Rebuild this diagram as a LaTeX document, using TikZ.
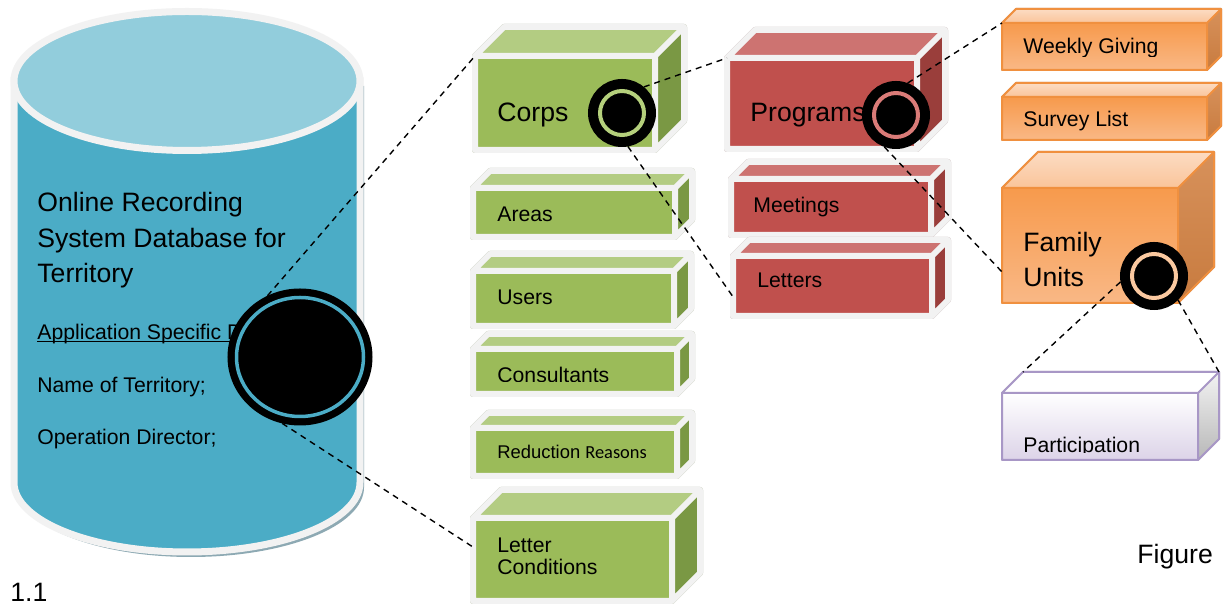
\documentclass[tikz,border=0pt]{standalone}
\usepackage{fontspec}
\setmainfont{Liberation Sans}
\newfontfamily\calibrifont{Carlito}
\usepackage{tikz}
\usetikzlibrary{shapes,calc,positioning}

\definecolor{rimgray}{HTML}{F2F2F2}
\definecolor{cylbody}{HTML}{4BACC6}
\definecolor{cyltop}{HTML}{92CDDC}
\definecolor{cylshade}{HTML}{8DA9B3}
\definecolor{grnfront}{HTML}{9BBB59}
\definecolor{grntop}{HTML}{B3CC82}
\definecolor{grnside}{HTML}{7A9844}
\definecolor{grnshade}{HTML}{A4AD90}
\definecolor{grnring}{HTML}{B5D07C}
\definecolor{redfront}{HTML}{C0504D}
\definecolor{redtop}{HTML}{CD7371}
\definecolor{redside}{HTML}{9A3E3B}
\definecolor{redshade}{HTML}{B39998}
\definecolor{redring}{HTML}{DA7B78}
\definecolor{orgline}{HTML}{F0903F}
\definecolor{orghi}{HTML}{F79A4C}
\definecolor{orglo}{HTML}{F9B886}
\definecolor{orgtop}{HTML}{FAC49A}
\definecolor{orgside}{HTML}{C87B3F}
\definecolor{orgshade}{HTML}{C49A78}
\definecolor{orgring}{HTML}{FBC9A0}
\definecolor{purline}{HTML}{A897C6}
\definecolor{purlo}{HTML}{DCD3E8}
\definecolor{purshade}{HTML}{C9C6CC}

\newcommand\bigtxt{\fontsize{13.3pt}{17.8pt}\selectfont}
\newcommand\smalltxt{\fontsize{10.6pt}{11pt}\selectfont}
\newsavebox\ulbox
\newcommand\ultxt[1]{\sbox\ulbox{#1}\rlap{\rule[-1pt]{\wd\ulbox}{0.55pt}}\usebox\ulbox}

% box with front face (#3,#4)-(#5,#6) and depth #7, colours from scheme #2
\newcommand\cuboid[7]{%
  \coordinate (#1-nw) at (#3,#4);
  \coordinate (#1-ne) at (#5,#4);
  \coordinate (#1-sw) at (#3,#6);
  \coordinate (#1-se) at (#5,#6);
  \coordinate (#1-bnw) at (#3+#7,#4-#7);
  \coordinate (#1-bne) at (#5+#7,#4-#7);
  \coordinate (#1-bse) at (#5+#7,#6-#7);
  \filldraw[#2 shadow] (#1-sw) -- (#1-nw) -- (#1-bnw) -- (#1-bne) -- (#1-bse) -- (#1-se) -- cycle;
  \fill[#2 front] (#1-nw) rectangle (#1-se);
  \fill[#2 top] (#1-nw) -- (#1-bnw) -- (#1-bne) -- (#1-ne) -- cycle;
  \fill[#2 side] (#1-ne) -- (#1-bne) -- (#1-bse) -- (#1-se) -- cycle;
  \draw[#2 rim] (#1-sw) -- (#1-nw) -- (#1-bnw) -- (#1-bne) -- (#1-bse) -- (#1-se) -- cycle
    (#1-nw) -- (#1-ne) -- (#1-se) (#1-ne) -- (#1-bne);
}

\begin{document}
\begin{tikzpicture}[x=0.5pt,y=-0.5pt,
  green front/.style={fill=grnfront}, green top/.style={fill=grntop}, green side/.style={fill=grnside},
  green shadow/.style={fill=grnshade,draw=grnshade,line width=3pt,line join=round,xshift=1.5pt,yshift=-3pt},
  green rim/.style={draw=rimgray,line width=3pt,line join=round},
  red front/.style={fill=redfront}, red top/.style={fill=redtop}, red side/.style={fill=redside},
  red shadow/.style={fill=redshade,draw=redshade,line width=3pt,line join=round,xshift=1.5pt,yshift=-3pt},
  red rim/.style={draw=rimgray,line width=3pt,line join=round},
  orange front/.style={top color=orghi,bottom color=orglo},
  orange top/.style={top color=orgtop!60!white,bottom color=orgtop},
  orange side/.style={top color=orgside!70!orgtop,bottom color=orgside},
  orange shadow/.style={fill=orgshade,draw=orgshade,line width=1pt,line join=round,xshift=1pt,yshift=-2.5pt},
  orange rim/.style={draw=orgline,line width=1pt,line join=round},
  purple front/.style={top color=white,bottom color=purlo},
  purple top/.style={fill=white},
  purple side/.style={top color=white!95!black,bottom color=white!72!black},
  purple shadow/.style={fill=purshade,draw=purshade,line width=1pt,line join=round,xshift=1pt,yshift=-2.5pt},
  purple rim/.style={draw=purline,line width=1pt,line join=round},
  lbl/.style={anchor=base west,inner sep=0pt,font=\smalltxt},
  lbig/.style={lbl,font=\bigtxt,align=left},
  lens/.style={circle,fill=black,draw=black,line width=5pt,inner sep=0pt,minimum size=29pt},
  callout/.style={dash pattern=on 3pt off 2.5pt,line width=0.7pt}]

\fill[white] (0,0) rectangle (1223,608);
\useasboundingbox (0,0) rectangle (1223,608);

% database cylinder
\fill[cylshade,xshift=2pt,yshift=-2.5pt] (14,81) -- (14,482.5) arc[start angle=180,end angle=0,x radius=173,y radius=69.5] -- (360,81) -- cycle;
\filldraw[fill=cylbody,draw=rimgray,line width=3.5pt] (14,81) -- (14,482.5) arc[start angle=180,end angle=0,x radius=173,y radius=69.5] -- (360,81) -- cycle;
\filldraw[fill=cyltop,draw=rimgray,line width=3.5pt] (187,81) ellipse [x radius=173,y radius=69.5];

\node[lbig] (dbtitle) at (37,283) {Online Recording\\System Database for\\Territory};
\node[lbl] (dbapp) at (37,340) {\ultxt{Application Specific Data}};
\node[lbl] (dbname) at (37,393) {Name of Territory;};
\node[lbl] (dbdir) at (37,445) {Operation Director;};

\node[lens,ellipse,line width=4.5pt,minimum width=68pt,minimum height=64pt] (dblens) at (300,357) {};
\draw[cylbody,line width=1.75pt] (dblens.center) ellipse [x radius=63.5,y radius=59.5];

% green tables
\cuboid{corps}{green}{475}{56}{655}{150}{29}
\cuboid{areas}{green}{473}{188}{675}{237}{17}
\cuboid{users}{green}{473}{271}{674}{326}{17}
\cuboid{consult}{green}{473}{349}{677}{394}{15}
\cuboid{reduct}{green}{473}{428}{677}{476}{15}
\cuboid{letcond}{green}{473}{518}{672}{601}{28}
\node[lbig] (corpstxt) at (497,122) {Corps};
\node[lbl] (areastxt) at (497,222) {Areas};
\node[lbl] (userstxt) at (497,305) {Users};
\begin{scope}
  \clip (470,340) rectangle (700,382);
  \node[lbl] (consulttxt) at (497,383) {Consultants};
\end{scope}
\node[lbl,font=\fontsize{9.2pt}{10pt}\selectfont] (reducttxt) at (497,459) {Reduction {\calibrifont Reasons}};
\node[lbl,align=left] (letcondtxt) at (497,575) {Letter\\Conditions};

% red tables
\cuboid{prog}{red}{727}{58}{917}{149}{28}
\cuboid{meet}{red}{731}{179}{931}{235}{17}
\cuboid{letters}{red}{733}{256}{932}{316}{16}
\node[lbig] (progtxt) at (750,122) {Programs};
\node[lbl] (meettxt) at (753,213) {Meetings};
\node[lbl] (letterstxt) at (757,288) {Letters};

% orange and purple tables
\cuboid{weekly}{orange}{1002}{23}{1207}{70}{14}
\cuboid{survey}{orange}{1002}{97}{1207}{140}{14}
\cuboid{family}{orange}{1002}{188}{1178}{303}{36}
\cuboid{part}{purple}{1002}{393}{1198}{460}{21}
\begin{scope}
  \clip (1000,20) rectangle (1210,57);
  \node[lbl] (weeklytxt) at (1023,54) {Weekly Giving};
\end{scope}
\node[lbl] (surveytxt) at (1023,127) {Survey List};
\node[lbig] (familytxt) at (1023,287) {Family\\Units};
\begin{scope}
  \clip (1000,390) rectangle (1200,453);
  \node[lbl] (parttxt) at (1023,453) {Participation};
\end{scope}

% zoom lenses
\node[lens] (corpslens) at (622,113) {};
\draw[grnring,line width=2pt] (corpslens.center) circle [radius=22];
\node[lens] (proglens) at (896,115) {};
\draw[redring,line width=2pt] (proglens.center) circle [radius=22];
\node[lens] (famlens) at (1154,276) {};
\draw[orgring,line width=2pt] (famlens.center) circle [radius=22];

\draw[callout] (dblens.118) -- (corps-nw);
\draw[callout] (dblens.255) -- ($(letcond-nw)!0.35!(letcond-sw)$);
\draw[callout] (corpslens.50) -- (prog-nw);
\draw[callout] (corpslens.280) -- ($(letters-nw)!0.68!(letters-sw)$);
\draw[callout] (proglens.70) -- (weekly-nw);
\draw[callout] (proglens.250) -- ($(family-nw)!0.73!(family-sw)$);
\draw[callout] (famlens.190) -- (part-bnw);
\draw[callout] (famlens.315) -- (part-bne);

\node[lbig] (figtxt) at (1137,564) {Figure};
\node[lbig] (numtxt) at (10,602) {1.1};
\end{tikzpicture}
\end{document}
